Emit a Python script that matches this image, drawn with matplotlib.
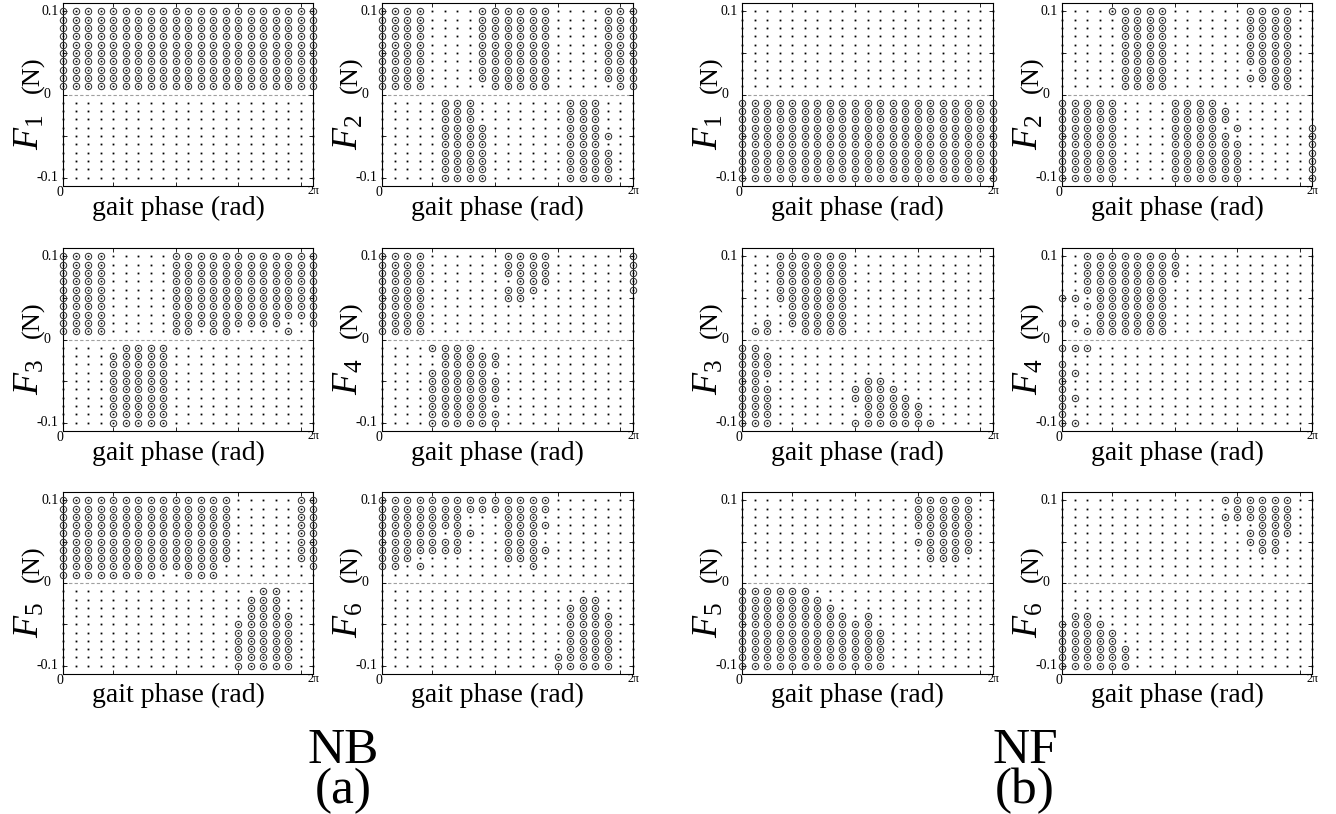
import matplotlib
matplotlib.use("Agg")
import matplotlib.pyplot as plt
import numpy as np

plt.rcParams['font.family'] = ['Liberation Serif', 'DejaVu Serif']
plt.rcParams['mathtext.fontset'] = 'custom'
plt.rcParams['mathtext.rm'] = 'Liberation Serif'
plt.rcParams['mathtext.it'] = 'Liberation Serif:italic'

# grid: 21 gait phase columns (0..2pi), 20 force levels (0.1 .. -0.1, no 0)
phase = np.arange(21) * 2 * np.pi / 20
force = np.array([0.1, 0.09, 0.08, 0.07, 0.06, 0.05, 0.04, 0.03, 0.02, 0.01,
                  -0.01, -0.02, -0.03, -0.04, -0.05, -0.06, -0.07, -0.08, -0.09, -0.1])

# 'o' = circled point, '.' = plain point; rows top (0.1) to bottom (-0.1)
E = '.' * 21
nb_f1 = ['o' * 21] * 10 + [E] * 10
nb_f2 = (["oooo....oooooo....ooo"] * 9 + ["oooo.....ooooo.....oo"] +
         [".....ooo.......ooo..."] * 3 + [".....oooo......ooo..."] +
         [".....oooo......oooo.."] + [".....oooo......ooo..."] +
         [".....oooo......oooo.."] * 4)
nb_f3 = (["oooo.....oooooooooooo"] * 8 + ["oooo.....ooooooooo..o"] +
         ["oooo.....oo.oo....o.."] + [".....oooo............"] +
         ["....ooooo............"] * 9)
nb_f4 = (["oooo......oooo......o"] * 3 + ["oooo.......ooo......o"] +
         ["oooo......ooo.......o"] + ["oooo......oo........."] +
         ["oooo................."] * 4 + ["....oooo............."] +
         [".....ooooo..........."] * 2 + ["....ooooo............"] +
         ["....oooooo..........."] * 3 + ["....ooooo............"] +
         ["....oooooo..........."] * 2)
nb_f5 = (["oooooooooooooo.....oo"] * 8 + ["ooooooooooooo.......o"] +
         ["oooooooo..ooo........"] + ["................oo..."] +
         ["...............ooo..."] * 2 + ["...............oooo.."] +
         ["..............ooooo.."] * 6)
nb_f6 = (["oooooooooooooo......."] * 2 + ["ooooooo...ooo........"] +
         ["ooooooo...oooo......."] + ["ooooo.oo..ooo........"] +
         ["ooooooo...ooo........"] + ["ooooooo...oooo......."] +
         ["ooo.......ooo........"] + ["oo.o........o........"] +
         [E] * 2 + ["................oo..."] + ["...............ooo..."] +
         ["...............oooo.."] * 5 + ["..............ooooo.."] * 2)

nf_f1 = [E] * 10 + ['o' * 21] * 10
nf_f2 = (["....ooooo......oooo.."] + [".....oooo......oooo.."] * 6 +
         [".....oooo.......ooo.."] + [".....oooo......oooo.."] +
         [".....oooo........oo.."] + ["ooooo....oooo........"] +
         ["ooooo....ooooo......."] * 2 + ["ooooo....oooo.o.....o"] +
         ["ooooo....ooooo......o"] + ["ooooo....oooooo.....o"] * 5)
nf_f3 = (["...oooooo............"] * 6 + ["....ooooo............"] * 2 +
         ["..o.ooooo............"] + [".oo..oooo............"] +
         ["oo..................."] + ["ooo.................."] * 3 +
         ["oo........oo........."] + ["ooo......oooo........"] +
         ["ooo......ooooo......."] + ["ooo.......ooooo......"] * 2 +
         ["ooo......ooooooo....."])
nf_f4 = (["..oooooooo..........."] * 3 + ["..ooooooo............"] * 2 +
         ["oo.oooooo............"] + ["..ooooooo............"] +
         ["...oooooo............"] + ["oo.oooooo............"] +
         ["..ooooooo............"] + ["ooo.................."] + [E] +
         ["o...................."] + ["oo..................."] +
         ["o...................."] * 2 + ["oo..................."] +
         ["o...................."] * 2 + ["oo..................."])
nf_f5 = (["..............ooooo.."] * 4 + ["...............oooo.."] +
         ["..............ooooo.."] + ["...............oooo.."] +
         ["...............ooo..."] + [E] * 2 + ["oooooo..............."] +
         ["ooooooo.............."] + ["oooooooo............."] +
         ["ooooooooo.o.........."] + ["ooooooooooo.........."] +
         ["oooooooooooo........."] * 5)
nf_f6 = ([".............oooooo.."] + ["..............ooooo.."] +
         [".............oooooo.."] + ["................ooo.."] +
         ["...............oooo.."] + ["...............ooo..."] +
         ["................oo..."] + [E] * 6 + [".oo.................."] +
         ["oooo................."] + ["ooooo................"] * 2 +
         ["oooooo..............."] * 3)

panels = [
    (nb_f1, 1, 0, 0), (nb_f2, 2, 0, 1), (nb_f3, 3, 1, 0),
    (nb_f4, 4, 1, 1), (nb_f5, 5, 2, 0), (nb_f6, 6, 2, 1),
    (nf_f1, 1, 0, 2), (nf_f2, 2, 0, 3), (nf_f3, 3, 1, 2),
    (nf_f4, 4, 1, 3), (nf_f5, 5, 2, 2), (nf_f6, 6, 2, 3),
]

W, H = 1336, 814
fig = plt.figure(figsize=(W / 100, H / 100), dpi=100)

col_px = [(63, 313), (382, 633), (742, 993), (1062, 1312)]
row_px = [(3, 186), (248, 431), (492, 674)]

PX, PY = np.meshgrid(phase, force)

for mask, idx, r, c in panels:
    l, rr = col_px[c]
    t, b = row_px[r]
    ax = fig.add_axes([l / W, 1 - b / H, (rr - l) / W, (b - t) / H])
    m = np.array([[ch == 'o' for ch in row] for row in mask])

    ax.axhline(0, color='#a0a0a0', lw=0.8, ls=(0, (3, 2)), zorder=1)
    ax.plot(PX.ravel(), PY.ravel(), ls='none', marker='s', ms=1.3,
            color='black', mew=0, clip_on=False, zorder=2)
    ax.plot(PX[m], PY[m], ls='none', marker='o', ms=4.6, mfc='none',
            mec='#333333', mew=0.75, clip_on=False, zorder=3)

    ax.set_xlim(0, 2 * np.pi)
    ax.set_ylim(-0.11, 0.11)
    ax.set_xticks(phase[[4, 9, 14, 19]])
    ax.set_yticks([-0.1, -0.05, 0, 0.05, 0.1])
    ax.tick_params(direction='in', top=True, right=True, length=3, width=0.6,
                   labelbottom=False, labelleft=False)
    for s in ax.spines.values():
        s.set_linewidth(0.8)

    ax.text(-0.012, -0.038, '0', transform=ax.transAxes, ha='center', va='center', fontsize=10)
    ax.text(1.0, -0.025, '2π', transform=ax.transAxes, ha='center', va='center', fontsize=8.5)
    ax.text(-0.018, 0.1, '0.1', transform=ax.get_yaxis_transform(), ha='right', va='center', fontsize=10)
    ax.text(-0.066, 0, '0', transform=ax.get_yaxis_transform(), ha='center', va='center', fontsize=10)
    ax.text(-0.018, -0.1, '-0.1', transform=ax.get_yaxis_transform(), ha='right', va='center', fontsize=10)

    ax.text(0.46, -0.12, 'gait phase (rad)', transform=ax.transAxes,
            ha='center', va='center', fontsize=20)
    ax.text(-0.096, 0.197, r'$F_%d$' % idx, transform=ax.transAxes, rotation=90,
            rotation_mode='anchor', ha='left', va='baseline', fontsize=26)
    ax.text(-0.096, 0.508, '(N)', transform=ax.transAxes, rotation=90,
            rotation_mode='anchor', ha='left', va='baseline', fontsize=19)

fig.text(343 / W, 1 - 771 / H, 'NB\n(a)', ha='center', va='center',
         fontsize=37, linespacing=0.82)
fig.text(1025 / W, 1 - 771 / H, 'NF\n(b)', ha='center', va='center',
         fontsize=37, linespacing=0.82)

fig.savefig('out.png', dpi=100, facecolor='white')
